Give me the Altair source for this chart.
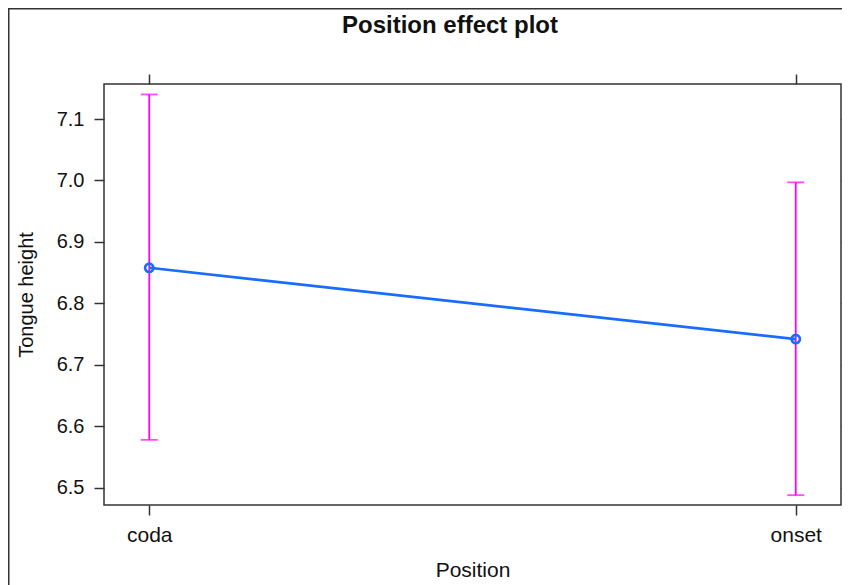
import altair as alt
import pandas as pd

positions = ["coda", "onset"]
fit = [6.858, 6.742]
lower = [6.578, 6.488]
upper = [7.140, 6.997]
y_ticks = [6.5, 6.6, 6.7, 6.8, 6.9, 7.0, 7.1]
main_title = "Position effect plot"

df = pd.DataFrame({"Position": positions, "fit": fit, "lower": lower, "upper": upper})

FONT = "Liberation Sans"
BLUE = "#1a6cff"
MAG = "#ff00ff"
AXC = "#333333"
TXT = "#111111"

xscale = alt.Scale(type="point", domain=positions, padding=0.07)
yscale = alt.Scale(domain=[6.472, 7.157], nice=False, zero=False)

x_bottom = alt.X("Position:N", scale=xscale, title="Position",
                 axis=alt.Axis(orient="bottom", labelAngle=0, tickSize=10, labelPadding=9,
                               labelFontSize=21, titleFontSize=21, titlePadding=14,
                               labelColor=TXT, titleColor=TXT, domain=False,
                               tickColor=AXC, tickWidth=1.5, labelFont=FONT, titleFont=FONT,
                               titleFontWeight="normal"))
y_left = alt.Y("fit:Q", scale=yscale, title="Tongue height",
               axis=alt.Axis(orient="left", values=y_ticks, format=".1f", tickSize=10,
                             labelPadding=10, labelFontSize=20, titleFontSize=20,
                             titlePadding=20, labelColor=TXT, titleColor=TXT,
                             domain=False, grid=False, tickColor=AXC, tickWidth=1.5,
                             labelFont=FONT, titleFont=FONT, titleFontWeight="normal"))

base = alt.Chart(df)

rules = base.mark_rule(color=MAG, strokeWidth=1.8).encode(
    x=alt.X("Position:N", scale=xscale, axis=None),
    y=alt.Y("lower:Q", scale=yscale, axis=None),
    y2="upper:Q",
)
cap_lo = base.mark_tick(color=MAG, size=17, thickness=1.8, orient="horizontal").encode(
    x=alt.X("Position:N", scale=xscale, axis=None),
    y=alt.Y("lower:Q", scale=yscale, axis=None),
)
cap_hi = base.mark_tick(color=MAG, size=17, thickness=1.8, orient="horizontal").encode(
    x=alt.X("Position:N", scale=xscale, axis=None),
    y=alt.Y("upper:Q", scale=yscale, axis=None),
)
line = base.mark_line(color=BLUE, strokeWidth=2.7).encode(x=x_bottom, y=y_left)
pts = base.mark_point(color=BLUE, size=70, strokeWidth=2.6, filled=False, opacity=1).encode(
    x=alt.X("Position:N", scale=xscale,
            axis=alt.Axis(orient="top", labels=False, title=None, tickSize=10, domain=False,
                          tickColor=AXC, tickWidth=1.5)),
    y=alt.Y("fit:Q", scale=yscale,
            axis=alt.Axis(orient="right", labels=False, title=None, values=y_ticks,
                          tickSize=9, domain=False, grid=False, tickColor=AXC, tickWidth=1.5)),
)

deco = alt.Chart(pd.DataFrame({"t": [main_title]}))
border_l = deco.mark_rule(color=AXC, strokeWidth=1.5).encode(
    x=alt.value(-95.25), y=alt.value(-76), y2=alt.value(520))
border_t = deco.mark_rule(color=AXC, strokeWidth=1.5).encode(
    x=alt.value(-96), x2=alt.value(760), y=alt.value(-75.25))
title_txt = deco.mark_text(font=FONT, fontSize=24, fontWeight="bold", color=TXT,
                           align="center", baseline="alphabetic").encode(
    text="t:N", x=alt.value(346), y=alt.value(-51))

chart = alt.layer(border_l, border_t, title_txt, rules, cap_lo, cap_hi, line, pts).resolve_axis(
    x="independent", y="independent"
).properties(
    width=737, height=421,
    background="white",
    autosize=alt.AutoSizeParams(type="none"),
    padding={"left": 96, "top": 76, "right": 1, "bottom": 80},
).configure_view(stroke=AXC, strokeWidth=1.5)

chart.save("out.html", embed_options={"renderer": "svg", "actions": False})
